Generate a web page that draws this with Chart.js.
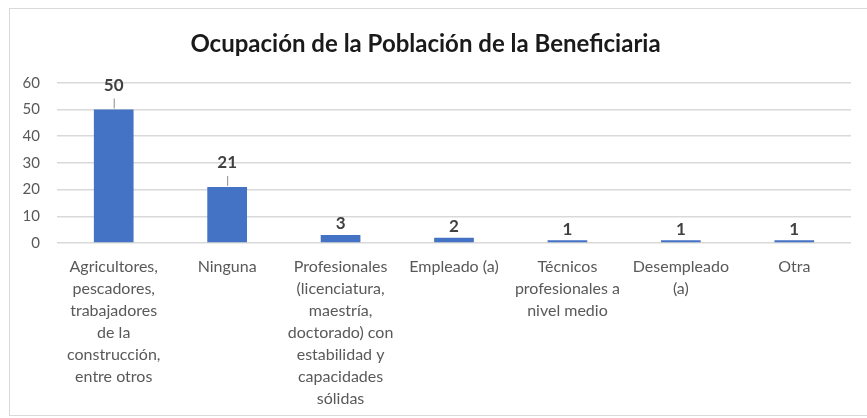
<!DOCTYPE html>
<html>
<head>
<meta charset="utf-8">
<script src="https://cdn.jsdelivr.net/npm/chart.js@4/dist/chart.umd.min.js"></script>
<style>
  html, body { margin: 0; padding: 0; background: #fff; }
  #wrap { width: 867px; height: 418px; position: relative; }
</style>
</head>
<body>
<div id="wrap"><canvas id="c" width="867" height="418"></canvas></div>
<script>
const chartTitle = "Ocupación de la Población de la Beneficiaria";
const categories = [
  ["Agricultores,", "pescadores,", "trabajadores", "de la", "construcción,", "entre otros"],
  ["Ninguna"],
  ["Profesionales", "(licenciatura,", "maestría,", "doctorado) con", "estabilidad y", "capacidades", "sólidas"],
  ["Empleado (a)"],
  ["Técnicos", "profesionales a", "nivel medio"],
  ["Desempleado", "(a)"],
  ["Otra"]
];
const values = [50, 21, 3, 2, 1, 1, 1];
const yTicks = [0, 10, 20, 30, 40, 50, 60];

const FONT = "Lato, 'Open Sans', sans-serif";

const frame = {
  id: 'frame',
  beforeDraw(chart) {
    const ctx = chart.ctx;
    ctx.save();
    ctx.fillStyle = '#ffffff';
    ctx.fillRect(0, 0, chart.width, chart.height);
    ctx.strokeStyle = '#d9d9d9';
    ctx.lineWidth = 1;
    ctx.strokeRect(9.5, 8.5, 880, 407);
    ctx.restore();
  }
};

const dataLabels = {
  id: 'dataLabels',
  afterDatasetsDraw(chart, args, opts) {
    const ctx = chart.ctx;
    const meta = chart.getDatasetMeta(0);
    ctx.save();
    ctx.font = 'bold 17px ' + FONT;
    ctx.fillStyle = '#404040';
    ctx.textAlign = 'center';
    ctx.textBaseline = 'middle';
    meta.data.forEach((bar, i) => {
      const v = chart.data.datasets[0].data[i];
      const leader = v >= opts.leaderMin;
      const lift = leader ? opts.leaderLift : opts.plainLift;
      const ty = bar.y - lift;
      ctx.fillText(String(v), bar.x, ty);
      if (leader) {
        ctx.strokeStyle = '#8c8c8c';
        ctx.lineWidth = 1;
        ctx.beginPath();
        ctx.moveTo(bar.x + 0.5, ty + 13);
        ctx.lineTo(bar.x + 0.5, bar.y - 1);
        ctx.stroke();
      }
    });
    ctx.restore();
  }
};

new Chart(document.getElementById('c'), {
  type: 'bar',
  data: {
    labels: categories,
    datasets: [{
      data: values,
      backgroundColor: '#4472c4',
      borderWidth: 0,
      barPercentage: 0.35,
      categoryPercentage: 1.0
    }]
  },
  options: {
    responsive: false,
    animation: false,
    devicePixelRatio: 1,
    layout: { padding: { left: 0, right: 16, top: 0, bottom: 4 } },
    plugins: {
      legend: { display: false },
      tooltip: { enabled: false },
      title: {
        display: true,
        text: chartTitle,
        color: '#1a1a1a',
        font: { family: FONT, size: 24, weight: 'bold', lineHeight: 1.2 },
        padding: { top: 30, bottom: 24 }
      },
      dataLabels: { leaderMin: 10, leaderLift: 24, plainLift: 11 }
    },
    scales: {
      x: {
        afterFit(scale) { scale.height = 171; },
        grid: { display: false, drawTicks: false },
        border: { display: false },
        ticks: {
          color: '#595959',
          font: { family: FONT, size: 16, lineHeight: 1.375 },
          padding: 13,
          maxRotation: 0,
          autoSkip: false
        }
      },
      y: {
        min: 0,
        max: 60,
        afterFit(scale) { scale.width = 57; },
        afterBuildTicks(scale) { scale.ticks = yTicks.map(v => ({ value: v })); },
        grid: { color: '#d9d9d9', lineWidth: 1.5, drawTicks: false },
        border: { display: false },
        ticks: {
          color: '#595959',
          font: { family: FONT, size: 15 },
          padding: 17
        }
      }
    }
  },
  plugins: [frame, dataLabels]
});
</script>
</body>
</html>
